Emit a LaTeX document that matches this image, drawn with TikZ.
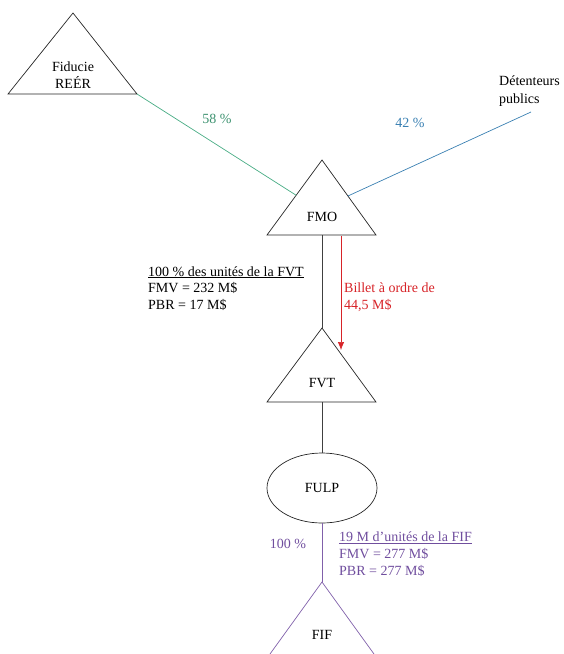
\documentclass[tikz,border=0pt]{standalone}
\usepackage{fontspec}
\setmainfont{Liberation Serif}
\usetikzlibrary{arrows.meta,shapes.geometric,calc}
\definecolor{cgreen}{RGB}{72,172,132}
\definecolor{cblue}{RGB}{58,128,178}
\definecolor{cred}{RGB}{215,35,40}
\definecolor{cpurple}{RGB}{128,96,170}
\definecolor{cpurpletext}{RGB}{112,78,158}
\begin{document}
\begin{tikzpicture}[x=1pt,y=-1pt,
  lbl/.style={font=\fontsize{14}{16.8}\selectfont, inner sep=0pt},
  tri/.style={draw=black!85, line width=0.7pt, line join=miter},
  conn/.style={line width=0.7pt}]
\useasboundingbox (0,0) rectangle (564,654);
% Fiducie REER
\coordinate (fidA) at (73,13); \coordinate (fidL) at (8,94); \coordinate (fidR) at (137,94);
\draw[tri] (fidA) -- (fidR) -- (fidL) -- cycle;
\node[lbl, align=center] (fid) at (73,75) {Fiducie\\REÉR};
% FMO
\coordinate (fmoA) at (322,160); \coordinate (fmoL) at (267,235); \coordinate (fmoR) at (376,235);
\draw[tri] (fmoA) -- (fmoR) -- (fmoL) -- cycle;
\node[lbl] (fmo) at (322,217) {FMO};
\coordinate (fmoB) at (322,235);
% FVT
\coordinate (fvtA) at (322,328); \coordinate (fvtL) at (267,402); \coordinate (fvtR) at (376,402);
\draw[tri] (fvtA) -- (fvtR) -- (fvtL) -- cycle;
\node[lbl] (fvt) at (322,383) {FVT};
\coordinate (fvtB) at (322,402);
% FULP
\node[draw=black!85, line width=0.7pt, ellipse, inner sep=0pt, minimum width=110pt, minimum height=70pt, font=\fontsize{14}{16}\selectfont] (fulp) at (322,488) {FULP};
% FIF
\coordinate (fifA) at (322,582); \coordinate (fifL) at (270,654); \coordinate (fifR) at (374,654);
\draw[draw=cpurple, line width=0.7pt] (fifL) -- (fifA) -- (fifR);
\node[lbl] (fif) at (322,635) {FIF};
% Detenteurs
\node[lbl, align=left, anchor=west, font=\fontsize{14}{18}\selectfont] (det) at (499,91) {Détenteurs\\publics};
\coordinate (detEnd) at (531,112);
% connectors
\draw[conn, cgreen] (fidR) -- ($(fmoA)!0.47!(fmoL)$);
\draw[conn, cblue] ($(fmoA)!0.48!(fmoR)$) -- (detEnd);
\draw[conn, black!75] (fmoB) -- (fvtA);
\coordinate (redS) at (341,236); \coordinate (redE) at (341,350);
\draw[conn, cred, -{Latex[length=8pt,width=6.5pt]}] (redS) -- (redE);
\draw[conn, black!75] (fvtB) -- (fulp.north);
\draw[conn, cpurple] (fulp.south) -- (fifA);
% labels
\node[lbl, text=cgreen!85!black] (p58) at (217,119) {58 \%};
\node[lbl, text=cblue] (p42) at (410,123) {42 \%};
\node[lbl, align=left, anchor=west] (fvtinfo) at (148,288.5) {\underline{100 \% des unités de la FVT}\\FMV = 232 M\$\\PBR = 17 M\$};
\node[lbl, align=left, anchor=west, text=cred] (billet) at (344,297) {Billet à ordre de\\44,5 M\$};
\node[lbl, text=cpurpletext] (p100) at (288,544) {100 \%};
\node[lbl, align=left, anchor=west, text=cpurpletext] (fifinfo) at (339,554) {\underline{19 M d’unités de la FIF}\\FMV = 277 M\$\\PBR = 277 M\$};
\end{tikzpicture}
\end{document}
